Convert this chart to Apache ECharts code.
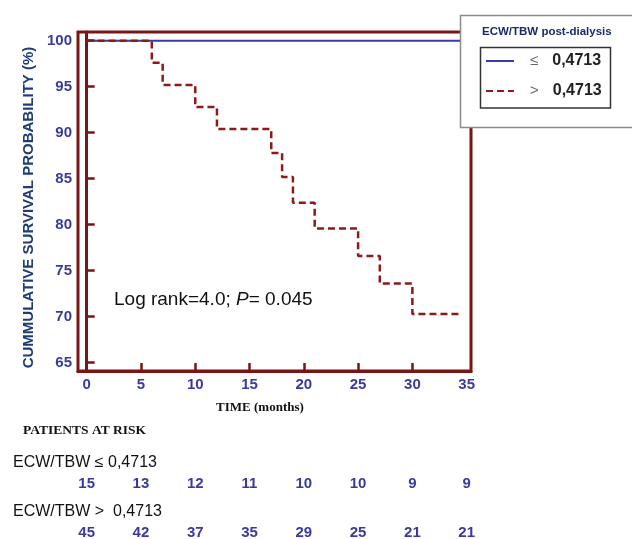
<!DOCTYPE html>
<html>
<head>
<meta charset="utf-8">
<script src="https://cdn.jsdelivr.net/npm/echarts@6.0.0/dist/echarts.min.js"></script>
<style>
html,body{margin:0;padding:0;background:#fff;}
#chart{width:632px;height:539px;}
</style>
</head>
<body>
<div id="chart"></div>
<script>
// ---- data ----
var xTicks = [0, 5, 10, 15, 20, 25, 30, 35];
var yTicks = [65, 70, 75, 80, 85, 90, 95, 100];
var lowTimes = [0, 35];
var lowSurvival = [100, 100];
var highTimes = [0, 6, 7, 10, 12, 17, 18, 19, 21, 25, 27, 30, 34.5];
var highSurvival = [100, 97.6, 95.2, 92.8, 90.4, 87.8, 85.2, 82.4, 79.6, 76.6, 73.6, 70.3, 70.3];
var riskTimes = [0, 5, 10, 15, 20, 25, 30, 35];
var riskLow = [15, 13, 12, 11, 10, 10, 9, 9];
var riskHigh = [45, 42, 37, 35, 29, 25, 21, 21];
var lowName = 'low';
var highName = 'high';

var frameColor = '#7a1515';
var tickLabelColor = '#3a3a9e';

function pairs(xs, ys) { return xs.map(function (x, i) { return [x, ys[i]]; }); }
function riskPairs(row, vals) { return riskTimes.map(function (t, i) { return [t, row, vals[i]]; }); }

var chart = echarts.init(document.getElementById('chart'));
var riskLabel = {
  show: true, position: 'inside', opacity: 1, textBorderWidth: 0,
  formatter: function (p) { return String(p.value[2]); },
  color: tickLabelColor, fontFamily: 'Arial, Liberation Sans', fontWeight: 'bold', fontSize: 15
};
chart.setOption({
  backgroundColor: '#fff',
  animation: false,
  grid: [
    { left: 78, top: 32, width: 393, height: 339, show: true, borderColor: frameColor, borderWidth: 3, backgroundColor: 'transparent' },
    { left: 78, top: 484, width: 393, height: 49, show: false }
  ],
  xAxis: [
    {
      type: 'value', gridIndex: 0, min: -0.8, max: 35.4,
      axisLine: { show: true, lineStyle: { color: frameColor, width: 3 } },
      axisTick: { show: true, inside: true, length: 8, lineStyle: { color: frameColor, width: 2.5 }, customValues: [0, 5, 10, 15, 20, 25, 30] },
      axisLabel: { customValues: xTicks, margin: 6, color: tickLabelColor, fontFamily: 'Arial, Liberation Sans', fontWeight: 'bold', fontSize: 15 },
      splitLine: { show: false },
      name: 'TIME (months)', nameLocation: 'middle', nameGap: 30,
      nameTextStyle: { fontFamily: 'Liberation Serif, Times New Roman, serif', fontWeight: 'bold', fontSize: 13, color: '#111', padding: [0, 29, 0, 0] }
    },
    { type: 'value', gridIndex: 1, min: -0.8, max: 35.4, show: false }
  ],
  yAxis: [
    {
      type: 'value', gridIndex: 0, min: 64.1, max: 100.95,
      axisLine: { show: true, lineStyle: { color: frameColor, width: 3 } },
      axisTick: { show: true, inside: true, length: 8, lineStyle: { color: frameColor, width: 2.5 }, customValues: yTicks },
      axisLabel: { customValues: yTicks, margin: 6, color: tickLabelColor, fontFamily: 'Arial, Liberation Sans', fontWeight: 'bold', fontSize: 15 },
      splitLine: { show: false },
      name: 'CUMMULATIVE SURVIVAL PROBABILITY (%)', nameLocation: 'middle', nameGap: 29, nameRotate: 90,
      nameTextStyle: { fontFamily: 'Arial, Liberation Sans', fontWeight: 'bold', fontSize: 15, color: '#1f3c78', padding: [0, 12, 0, 0] }
    },
    { type: 'value', gridIndex: 1, min: 0, max: 1, inverse: true, show: false }
  ],
  legend: {
    data: [lowName, highName],
    orient: 'vertical', left: 485, top: 53, itemWidth: 28, itemHeight: 14, itemGap: 14,
    padding: 0, z: 200, selectedMode: false,
    itemStyle: { opacity: 0 },
    formatter: function (n) { return (n === lowName ? '{s|≤}' : '{s|>}') + '{v|0,4713}'; },
    textStyle: {
      rich: {
        s: { fontSize: 15, color: '#666', fontFamily: 'Arial, Liberation Sans', padding: [0, 14, 0, 11] },
        v: { fontSize: 16, fontWeight: 'bold', color: '#222', fontFamily: 'Arial, Liberation Sans' }
      }
    }
  },
  graphic: [
    { type: 'rect', z: 100, shape: { x: 460.5, y: 15.5, width: 200, height: 112 }, style: { fill: '#fff', stroke: '#8a8a8a', lineWidth: 1.5 } },
    { type: 'rect', z: 101, shape: { x: 480.5, y: 47.5, width: 130, height: 60.5 }, style: { fill: '#fff', stroke: '#333', lineWidth: 1.5 } },
    { type: 'text', z: 101, left: 482, top: 26, style: { text: 'ECW/TBW post-dialysis', fill: '#1b2a6b', font: 'bold 11.5px Arial, Liberation Sans' } },
    { type: 'text', left: 114, top: 290, style: { text: 'Log rank=4.0; {i|P}= 0.045', fill: '#111', font: '19px Arial, Liberation Sans',
        rich: { i: { fontStyle: 'italic', fontSize: 19, fontFamily: 'Arial, Liberation Sans', fill: '#111' } } } },
    { type: 'text', left: 23, top: 424, style: { text: 'PATIENTS AT RISK', fill: '#111', font: 'bold 13.5px Liberation Serif, Times New Roman, serif' } },
    { type: 'text', left: 13, top: 455, style: { text: 'ECW/TBW ≤ 0,4713', fill: '#111', font: '16px Arial, Liberation Sans' } },
    { type: 'text', left: 13, top: 504, style: { text: 'ECW/TBW >  0,4713', fill: '#111', font: '16px Arial, Liberation Sans' } }
  ],
  series: [
    {
      name: lowName, type: 'line', xAxisIndex: 0, yAxisIndex: 0, data: pairs(lowTimes, lowSurvival),
      showSymbol: false, symbol: 'none', lineStyle: { color: '#3a3aa8', width: 2 }, itemStyle: { color: '#3a3aa8' }, z: 2
    },
    {
      name: highName, type: 'line', step: 'end', xAxisIndex: 0, yAxisIndex: 0, data: pairs(highTimes, highSurvival),
      showSymbol: false, symbol: 'none', lineStyle: { color: '#8b1a1a', width: 2.5, type: [7, 4] }, itemStyle: { color: '#8b1a1a' }, z: 3
    },
    {
      name: 'riskLow', type: 'scatter', xAxisIndex: 1, yAxisIndex: 1, data: riskPairs(0, riskLow),
      symbol: 'rect', symbolSize: 1, itemStyle: { color: '#fff', opacity: 1 }, label: riskLabel, silent: true
    },
    {
      name: 'riskHigh', type: 'scatter', xAxisIndex: 1, yAxisIndex: 1, data: riskPairs(1, riskHigh),
      symbol: 'rect', symbolSize: 1, itemStyle: { color: '#fff', opacity: 1 }, label: riskLabel, silent: true
    }
  ]
});
</script>
</body>
</html>
